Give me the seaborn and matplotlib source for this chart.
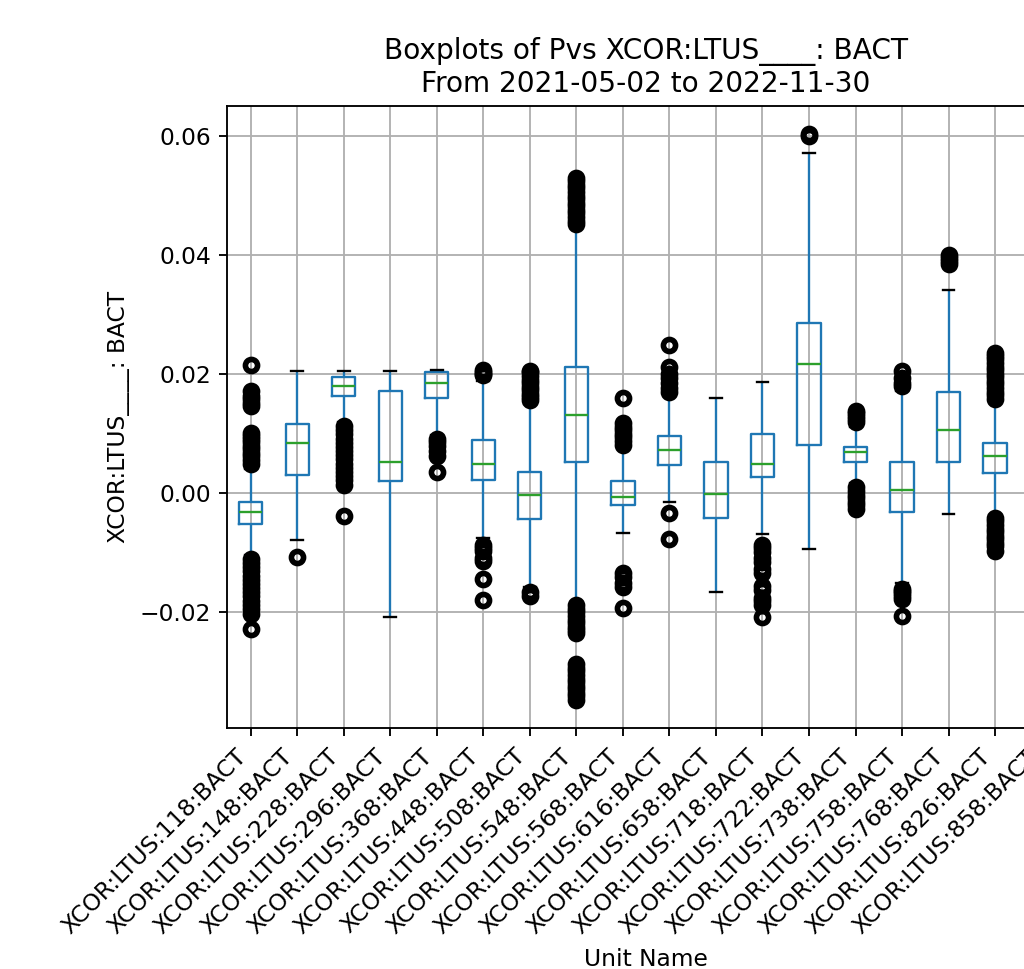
import numpy as np
import pandas as pd
import matplotlib
matplotlib.use("Agg")
import matplotlib.pyplot as plt
import seaborn as sns

units = ["XCOR:LTUS:118:BACT", "XCOR:LTUS:148:BACT", "XCOR:LTUS:228:BACT",
         "XCOR:LTUS:296:BACT", "XCOR:LTUS:368:BACT", "XCOR:LTUS:448:BACT",
         "XCOR:LTUS:508:BACT", "XCOR:LTUS:548:BACT", "XCOR:LTUS:568:BACT",
         "XCOR:LTUS:616:BACT", "XCOR:LTUS:658:BACT", "XCOR:LTUS:718:BACT",
         "XCOR:LTUS:722:BACT", "XCOR:LTUS:738:BACT", "XCOR:LTUS:758:BACT",
         "XCOR:LTUS:768:BACT", "XCOR:LTUS:826:BACT", "XCOR:LTUS:858:BACT"]

q1 = [-0.0052, 0.0031, 0.0163, 0.0020, 0.0160, 0.0022, -0.0043, 0.0053, -0.0020,
      0.0047, -0.0042, 0.0027, 0.0082, 0.0053, -0.0031, 0.0053, 0.0035, 0.0000]
medians = [-0.0031, 0.0084, 0.0181, 0.0053, 0.0185, 0.0049, -0.0003, 0.0132, -0.0006,
           0.0073, -0.0001, 0.0050, 0.0217, 0.0070, 0.0005, 0.0107, 0.0062, 0.0030]
q3 = [-0.0014, 0.0116, 0.0195, 0.0172, 0.0204, 0.0089, 0.0036, 0.0212, 0.0020,
      0.0096, 0.0053, 0.0099, 0.0286, 0.0078, 0.0053, 0.0170, 0.0084, 0.0060]
whislo = [-0.0104, -0.0079, 0.0120, -0.0207, 0.0098, -0.0075, -0.0158, -0.0182, -0.0066,
          -0.0014, -0.0165, -0.0069, -0.0094, 0.0018, -0.0150, -0.0035, -0.0036, -0.0080]
whishi = [0.0041, 0.0206, 0.0206, 0.0206, 0.0208, 0.0188, 0.0150, 0.0445, 0.0076,
          0.0165, 0.0161, 0.0187, 0.0571, 0.0112, 0.0172, 0.0342, 0.0154, 0.0140]

fliers_low = [
    [-0.0110, -0.0117, -0.0124, -0.0131, -0.0138, -0.0145, -0.0152, -0.0159, -0.0166,
     -0.0173, -0.0180, -0.0187, -0.0194, -0.0202, -0.0228],
    [-0.0106],
    [0.0113, 0.0106, 0.0099, 0.0092, 0.0085, 0.0078, 0.0071, 0.0064, 0.0057, 0.0050,
     0.0043, 0.0036, 0.0029, 0.0022, 0.0014, -0.0038],
    [],
    [0.0092, 0.0086, 0.0080, 0.0071, 0.0063, 0.0036],
    [-0.0086, -0.0091, -0.0096, -0.0108, -0.0113, -0.0144, -0.0179],
    [-0.0166, -0.0172],
    [-0.0188, -0.0194, -0.0200, -0.0206, -0.0212, -0.0218, -0.0224, -0.0230, -0.0235,
     -0.0287, -0.0293, -0.0299, -0.0305, -0.0311, -0.0317, -0.0323, -0.0329, -0.0335,
     -0.0341, -0.0347],
    [-0.0133, -0.0141, -0.0150, -0.0157, -0.0192],
    [-0.0033, -0.0077],
    [],
    [-0.0087, -0.0092, -0.0098, -0.0108, -0.0115, -0.0127, -0.0134, -0.0155, -0.0162,
     -0.0175, -0.0181, -0.0187, -0.0208],
    [],
    [0.0010, 0.0004, -0.0002, -0.0008, -0.0014, -0.0020, -0.0026],
    [-0.0160, -0.0164, -0.0168, -0.0173, -0.0178, -0.0206],
    [],
    [-0.0041, -0.0047, -0.0053, -0.0059, -0.0065, -0.0071, -0.0077, -0.0083, -0.0089,
     -0.0096],
    [],
]
fliers_high = [
    [0.0050, 0.0056, 0.0062, 0.0068, 0.0074, 0.0080, 0.0086, 0.0092, 0.0097, 0.0102,
     0.0147, 0.0152, 0.0158, 0.0164, 0.0172, 0.0215],
    [],
    [],
    [],
    [],
    [0.0198, 0.0201, 0.0204, 0.0207],
    [0.0157, 0.0162, 0.0167, 0.0173, 0.0179, 0.0185, 0.0191, 0.0197, 0.0203, 0.0206],
    [0.0452, 0.0458, 0.0464, 0.0470, 0.0476, 0.0482, 0.0488, 0.0494, 0.0500, 0.0506,
     0.0512, 0.0518, 0.0524, 0.0530],
    [0.0082, 0.0088, 0.0094, 0.0100, 0.0106, 0.0112, 0.0119, 0.0161],
    [0.0171, 0.0177, 0.0186, 0.0194, 0.0200, 0.0213, 0.0249],
    [],
    [],
    [0.0600, 0.0603],
    [0.0120, 0.0125, 0.0130, 0.0135, 0.0139],
    [0.0181, 0.0186, 0.0194, 0.0206],
    [0.0385, 0.0390, 0.0395, 0.0400],
    [0.0159, 0.0165, 0.0171, 0.0177, 0.0183, 0.0189, 0.0195, 0.0201, 0.0207, 0.0213,
     0.0219, 0.0225, 0.0231, 0.0236],
    [],
]

# Build a long-form table whose box statistics reproduce the values above
REP = 200
rows = []
for name, a, m, c, lo, hi, fl, fh in zip(units, q1, medians, q3, whislo, whishi,
                                         fliers_low, fliers_high):
    vals = list(fl) + [lo] + [a] * REP + [m] * REP + [c] * REP + [hi] + list(fh)
    rows.extend((name, v) for v in vals)
df = pd.DataFrame(rows, columns=["Unit Name", "value"])

DPI = 168
fig = plt.figure(figsize=(1024 / DPI, 969 / DPI), dpi=DPI)
ax = fig.add_axes([0.2221, 0.2484, 0.8178, 0.6422])

sns.boxplot(
    data=df, x="Unit Name", y="value", order=units, ax=ax,
    width=0.5, fill=False, color="#1f77b4", saturation=1, linewidth=1,
    whis=1.5, fliersize=5.2,
    boxprops=dict(color="#1f77b4"),
    whiskerprops=dict(color="#1f77b4"),
    medianprops=dict(color="#2ca02c"),
    capprops=dict(color="black"),
    flierprops=dict(marker="o", markerfacecolor="none", markeredgecolor="black",
                    markersize=5.2, markeredgewidth=2.4),
)

ax.set_xlim(-0.5, len(units) - 0.5)
ax.grid(True)
plt.setp(ax.get_xticklabels(), rotation=45, ha="right")
ax.set_xlabel("Unit Name")
ax.set_ylabel("XCOR:LTUS____: BACT")
ax.set_title("Boxplots of Pvs XCOR:LTUS____: BACT\nFrom 2021-05-02 to 2022-11-30")

fig.savefig("out.png", dpi=DPI)
